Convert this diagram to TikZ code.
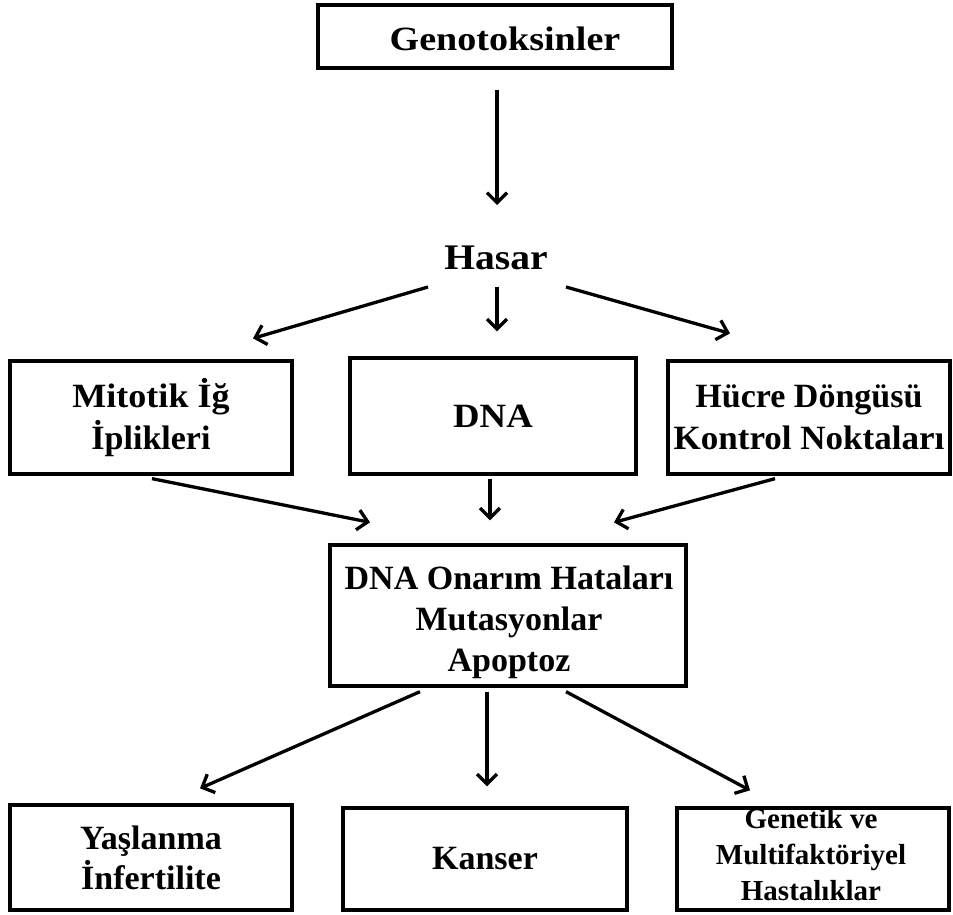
\documentclass[tikz,border=0pt]{standalone}
\usepackage{fontspec}
\setmainfont{Liberation Serif}
\usepackage{graphicx}
\usetikzlibrary{arrows.meta,calc}
\begin{document}
\begin{tikzpicture}[x=1pt,y=-1pt,
  box/.style={draw,line width=3.3pt,inner sep=0pt,align=center,font=\bfseries\fontsize{34}{42}\selectfont},
  txt/.style={inner sep=0pt,align=center,font=\bfseries\fontsize{34}{42}\selectfont},
  arr/.style={line width=3.3pt,-{Straight Barb[length=10pt,width=20pt]}}]
\useasboundingbox (0,0) rectangle (953,915);
\node[box,minimum width=354pt,minimum height=63pt] (gen) at (495,36.5) {};
\node[txt] (gentxt) at (505,39) {\scalebox{1.12}[1]{Genotoksinler}};
\node[font=\bfseries\fontsize{36}{42}\selectfont] (hasar) at (496,258) {\scalebox{1.1}[1]{Hasar}};
\node[box,minimum width=282pt,minimum height=113pt] (mit) at (151,417.5) {\scalebox{1.06}[1]{Mitotik İğ}\\İplikleri};
\node[box,minimum width=286pt,minimum height=116pt] (dna) at (493,416) {\scalebox{1.08}[1]{DNA}};
\node[box,minimum width=282pt,minimum height=113pt] (hcr) at (809,417.5) {Hücre Döngüsü\\\scalebox{1.03}[1]{Kontrol Noktaları}};
\node[box,minimum width=356pt,minimum height=141pt] (onr) at (508,615.5) {};
\node[txt,font=\bfseries\fontsize{34}{41}\selectfont] (onrtxt) at (509,622) {DNA Onarım Hataları\\Mutasyonlar\\Apoptoz};
\node[box,minimum width=282pt,minimum height=105pt,font=\bfseries\fontsize{34}{40}\selectfont] (yas) at (151,857.5) {Yaşlanma\\İnfertilite};
\node[box,minimum width=284pt,minimum height=102pt] (kan) at (485,859) {Kanser};
\node[box,minimum width=272pt,minimum height=102pt] (gmh) at (813,859) {};
\node[txt,font=\bfseries\fontsize{29}{36}\selectfont] (gmhtxt) at (811,855) {Genetik ve\\Multifaktöriyel\\Hastalıklar};
\draw[arr] ($(gen.south)+(2,20)$) -- ($(hasar)+(1,-53)$);
\draw[arr] ($(hasar)+(-68,29)$) -- ($(mit.north)+(102,-21)$);
\draw[arr] ($(hasar)+(1,29)$) -- ($(dna.north)+(4,-25)$);
\draw[arr] ($(hasar)+(70,29)$) -- ($(hcr.north)+(-79,-26)$);
\draw[arr] ($(mit.south)+(1,3)$) -- ($(onr.north)+(-138,-21)$);
\draw[arr] ($(dna.south)+(-3,3)$) -- ($(onr.north)+(-18,-23)$);
\draw[arr] ($(hcr.south)+(-34,3)$) -- ($(onr.north)+(106,-21)$);
\draw[arr] ($(onr.south)+(-88,4)$) -- ($(yas.north)+(49,-15)$);
\draw[arr] ($(onr.south)+(-21,4)$) -- ($(kan.north)+(2,-20)$);
\draw[arr] ($(onr.south)+(58,4)$) -- ($(gmh.north)+(-63,-16)$);
\end{tikzpicture}
\end{document}
